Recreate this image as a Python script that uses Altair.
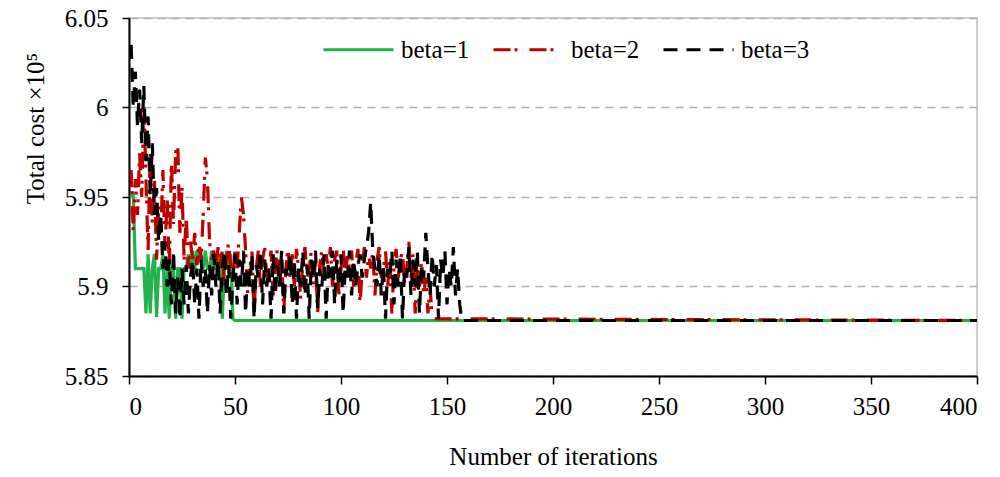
import altair as alt
import pandas as pd

# beta=1: iterations 1..50, then flat until 400
beta1_iter = list(range(1, 51)) + [400]
beta1_cost = [
    5.950, 5.953, 5.910, 5.910, 5.910, 5.910, 5.910, 5.885, 5.918, 5.885,
    5.910, 5.918, 5.883, 5.910, 5.910, 5.918, 5.885, 5.910, 5.882, 5.910,
    5.910, 5.882, 5.910, 5.910, 5.882, 5.910, 5.910, 5.918, 5.910, 5.920,
    5.910, 5.920, 5.915, 5.918, 5.910, 5.920, 5.910, 5.910, 5.920, 5.910,
    5.910, 5.918, 5.910, 5.882, 5.910, 5.920, 5.910, 5.918, 5.882, 5.881,
    5.881,
]

# beta=2: iterations 1..143, then flat until 400
beta2_iter = list(range(1, 144)) + [400]
beta2_cost = [
    5.965, 5.930, 5.960, 5.940, 5.975, 5.950, 6.003, 5.960, 5.920, 5.975,
    5.935, 5.960, 5.915, 5.945, 5.930, 5.965, 5.920, 5.950, 5.910, 5.970,
    5.935, 5.975, 5.980, 5.930, 5.955, 5.915, 5.940, 5.910, 5.925, 5.915,
    5.930, 5.912, 5.925, 5.915, 5.940, 5.972, 5.960, 5.925, 5.915, 5.920,
    5.910, 5.922, 5.910, 5.920, 5.900, 5.915, 5.925, 5.910, 5.905, 5.920,
    5.910, 5.930, 5.950, 5.940, 5.920, 5.895, 5.910, 5.920, 5.885, 5.910,
    5.920, 5.900, 5.915, 5.922, 5.905, 5.910, 5.920, 5.895, 5.912, 5.921,
    5.900, 5.915, 5.885, 5.910, 5.922, 5.905, 5.918, 5.900, 5.921, 5.910,
    5.893, 5.915, 5.922, 5.905, 5.910, 5.920, 5.900, 5.915, 5.885, 5.912,
    5.921, 5.905, 5.918, 5.910, 5.922, 5.900, 5.915, 5.920, 5.895, 5.910,
    5.922, 5.905, 5.917, 5.910, 5.920, 5.900, 5.913, 5.921, 5.890, 5.910,
    5.922, 5.905, 5.918, 5.910, 5.920, 5.895, 5.915, 5.922, 5.905, 5.910,
    5.920, 5.900, 5.917, 5.885, 5.912, 5.921, 5.905, 5.915, 5.920, 5.900,
    5.910, 5.925, 5.905, 5.918, 5.885, 5.910, 5.900, 5.915, 5.895, 5.905,
    5.885, 5.900, 5.882,
    5.881,
]

# beta=3: iterations 1..157, then flat until 400
beta3_iter = list(range(1, 158)) + [400]
beta3_cost = [
    6.035, 6.000, 6.020, 5.990, 6.010, 5.980, 6.012, 5.970, 5.995, 5.950,
    5.980, 5.940, 5.955, 5.925, 5.940, 5.910, 5.925, 5.900, 5.915, 5.890,
    5.920, 5.885, 5.905, 5.882, 5.910, 5.890, 5.912, 5.885, 5.905, 5.915,
    5.890, 5.910, 5.882, 5.915, 5.900, 5.910, 5.885, 5.912, 5.895, 5.918,
    5.900, 5.915, 5.885, 5.910, 5.920, 5.895, 5.912, 5.882, 5.905, 5.918,
    5.890, 5.915, 5.900, 5.920, 5.885, 5.910, 5.900, 5.918, 5.882, 5.912,
    5.905, 5.920, 5.890, 5.915, 5.900, 5.910, 5.882, 5.918, 5.895, 5.912,
    5.900, 5.920, 5.885, 5.910, 5.905, 5.918, 5.890, 5.915, 5.882, 5.910,
    5.900, 5.920, 5.895, 5.912, 5.882, 5.915, 5.905, 5.920, 5.888, 5.910,
    5.900, 5.918, 5.882, 5.912, 5.905, 5.920, 5.890, 5.915, 5.900, 5.918,
    5.885, 5.910, 5.905, 5.920, 5.895, 5.915, 5.900, 5.912, 5.918, 5.905,
    5.915, 5.922, 5.930, 5.947, 5.920, 5.910, 5.900, 5.918, 5.895, 5.912,
    5.882, 5.910, 5.905, 5.920, 5.890, 5.915, 5.900, 5.918, 5.882, 5.910,
    5.905, 5.922, 5.895, 5.915, 5.900, 5.920, 5.885, 5.912, 5.905, 5.930,
    5.910, 5.895, 5.918, 5.900, 5.912, 5.882, 5.915, 5.905, 5.920, 5.890,
    5.910, 5.900, 5.922, 5.895, 5.910, 5.890, 5.881,
    5.881,
]

series_names = ["beta=1", "beta=2", "beta=3"]
series_colors = ["#1fb34a", "#c00000", "#000000"]
series_dashes = [[1, 0], [17, 4, 3, 12], [14, 9]]

y_ticks = [5.85, 5.9, 5.95, 6.0, 6.05]
x_ticks = [0, 50, 100, 150, 200, 250, 300, 350, 400]

rows = []
for name, its, costs in zip(series_names,
                            [beta1_iter, beta2_iter, beta3_iter],
                            [beta1_cost, beta2_cost, beta3_cost]):
    for i, c in zip(its, costs):
        rows.append({"series": name, "iter": i, "cost": c})
df = pd.DataFrame(rows)

FONT = "Liberation Serif"
FS = 25

chart = alt.Chart(df).mark_line(strokeWidth=3.2, clip=True).encode(
    x=alt.X("iter:Q",
            scale=alt.Scale(domain=[0, 400], nice=False, zero=False),
            axis=alt.Axis(values=x_ticks, title="Number of iterations",
                          grid=False, tickSize=8, labelPadding=10,
                          titlePadding=25)),
    y=alt.Y("cost:Q",
            scale=alt.Scale(domain=[5.85, 6.05], nice=False, zero=False),
            axis=alt.Axis(values=y_ticks, format="~g",
                          title="Total cost  ×10⁵",
                          grid=True, gridDash=[8, 6], gridColor="#b0b0b0",
                          gridWidth=1.5, tickSize=7, labelPadding=14,
                          titleY=110, titleX=-94, titleBaseline="middle")),
    color=alt.Color("series:N",
                    scale=alt.Scale(domain=series_names, range=series_colors),
                    legend=alt.Legend(title=None, orient="none",
                                      legendX=193, legendY=-5,
                                      direction="horizontal",
                                      symbolType="stroke", symbolSize=4900,
                                      symbolStrokeWidth=3,
                                      labelFont=FONT, labelFontSize=FS,
                                      labelColor="#000", labelOffset=6,
                                      columnPadding=17)),
    strokeDash=alt.StrokeDash("series:N",
                              scale=alt.Scale(domain=series_names,
                                              range=series_dashes),
                              legend=None),
    detail="series:N",
).properties(
    width=848,
    height=358,
    autosize=alt.AutoSizeParams(type="none"),
    padding={"left": 121, "top": 10, "right": 15, "bottom": 93},
).configure_view(
    stroke="#bdbdbd", strokeWidth=1.5
).configure_axis(
    labelFont=FONT, labelFontSize=FS, labelColor="#000",
    titleFont=FONT, titleFontSize=FS, titleColor="#000",
    titleFontWeight="normal",
    domainColor="#000", domainWidth=2,
    tickColor="#000", tickWidth=1.5,
)

chart.save("out.html", embed_options={"renderer": "svg", "actions": False})
